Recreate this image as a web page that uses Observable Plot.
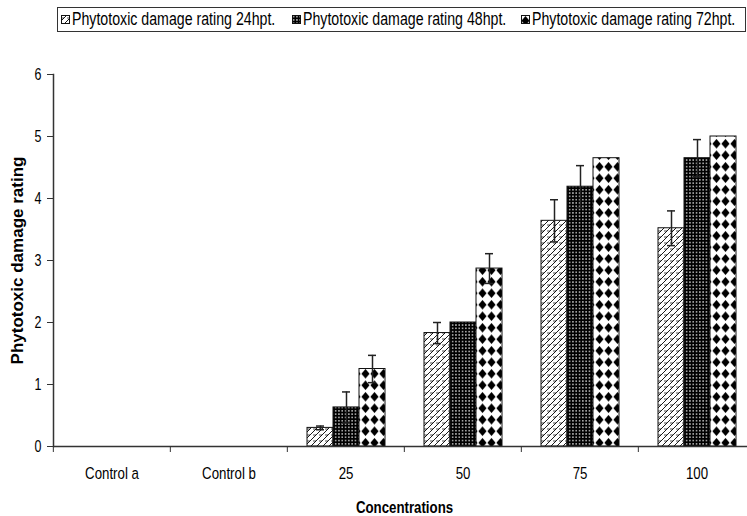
<!DOCTYPE html>
<html><head><meta charset="utf-8">
<script src="https://cdn.jsdelivr.net/npm/d3@7"></script>
<script src="https://cdn.jsdelivr.net/npm/@observablehq/plot@0.6"></script>
<style>
html,body{margin:0;padding:0;background:#fff;overflow:hidden;width:747px;height:516px;}
#wrap{position:relative;width:747px;height:516px;overflow:hidden;}
#chart{position:absolute;left:0;top:0;}
#legend{position:absolute;left:57px;top:7px;width:689px;height:25px;border:1.5px solid #333;box-sizing:border-box;background:#fff;font-family:"Liberation Sans",Arial,sans-serif;font-size:17.5px;color:#000;white-space:nowrap;}
#legend svg{position:absolute;top:7px;display:block;}
#legend span{position:absolute;top:1px;line-height:20px;transform:scaleX(0.81);transform-origin:0 50%;}
</style></head>
<body><div id="wrap"><div id="chart"></div><div id="legend"></div></div>
<script>
const categories = ["Control a", "Control b", "25", "50", "75", "100"];
const series = ["Phytotoxic damage rating 24hpt.", "Phytotoxic damage rating 48hpt.", "Phytotoxic damage rating 72hpt."];
const values24 = [0, 0, 0.30, 1.83, 3.64, 3.52];
const values48 = [0, 0, 0.63, 2.00, 4.19, 4.65];
const values72 = [0, 0, 1.25, 2.87, 4.65, 5.00];
const err24 = [0, 0, 0.03, 0.17, 0.34, 0.28];
const err48 = [0, 0, 0.25, 0, 0.34, 0.30];
const err72 = [0, 0, 0.22, 0.24, 0, 0];
const yTicks = [0, 1, 2, 3, 4, 5, 6];
const yLabel = "Phytotoxic damage rating";
const xLabel = "Concentrations";
const patternIds = ["p24", "p48", "p72"];

const valueSets = [values24, values48, values72];
const errSets = [err24, err48, err72];
const data = [];
categories.forEach((c, i) => {
  series.forEach((s, j) => data.push({cat: c, s, v: valueSets[j][i], e: errSets[j][i]}));
});
const errs = data.filter(d => d.e > 0);

const W = 760, H = 516, ML = 52, MR = 4;
const step = (W - ML - MR) / categories.length;
const font = '"Liberation Sans",Arial,sans-serif';

const chart = Plot.plot({
  width: W, height: H,
  marginLeft: ML, marginRight: MR, marginTop: 74, marginBottom: 70,
  style: {maxWidth: "none", overflow: "hidden", background: "#fff", fontFamily: font, fontSize: "16px", color: "#000"},
  fx: {domain: categories, padding: 0, label: null, axis: null},
  x: {domain: series, paddingInner: 0, paddingOuter: 0.73, axis: null},
  y: {domain: [0, 6], axis: null},
  color: {type: "ordinal", domain: series, range: patternIds.map(id => `url(#${id})`)},
  marks: [
    Plot.barY(data, {fx: "cat", x: "s", y: "v", fill: "s", stroke: "#111", strokeWidth: 1}),
    Plot.ruleX(errs, {fx: "cat", x: "s", y1: d => d.v - d.e, y2: d => d.v + d.e, stroke: "#222", strokeWidth: 1.5}),
    Plot.tickY(errs, {fx: "cat", x: "s", y: d => d.v + d.e, insetLeft: 9, insetRight: 9, stroke: "#222", strokeWidth: 1.5}),
    Plot.tickY(errs, {fx: "cat", x: "s", y: d => d.v - d.e, insetLeft: 9, insetRight: 9, stroke: "#222", strokeWidth: 1.5}),
    Plot.ruleY([0], {stroke: "#333", strokeWidth: 1.5}),
    Plot.frame({anchor: "left", facetAnchor: "left", stroke: "#333", strokeWidth: 1.5}),
    Plot.axisY({ticks: yTicks, tickFormat: d => String(d), tickSize: 6, tickPadding: 6, label: null, fontSize: 16, stroke: "#333"}),
    Plot.axisY({ticks: [], tickSize: 0, label: yLabel, labelAnchor: "center", labelOffset: 43, labelArrow: "none", fontWeight: "bold", fontSize: 17, ariaLabel: "ylabel"}),
    Plot.axisFx({anchor: "bottom", tickSize: 0, tickPadding: 20, label: null, fontSize: 17}),
    Plot.axisFx({anchor: "bottom", ticks: [], tickSize: 0, label: xLabel, labelAnchor: "center", labelOffset: 66, labelArrow: "none", fontWeight: "bold", fontSize: 17}),
    Plot.axisFx({anchor: "bottom", tickSize: 6, tickFormat: () => "", label: null, dx: -step / 2, stroke: "#333"})
  ]
});

d3.select(chart).insert("defs", ":first-child").html(`
  <pattern id="p24" patternUnits="userSpaceOnUse" width="6" height="6">
    <rect width="6" height="6" fill="#fff"/>
    <path d="M0,6 L6,0 M-1.5,1.5 L1.5,-1.5 M4.5,7.5 L7.5,4.5" stroke="#000" stroke-width="0.9"/>
    <path d="M0,3 L3,3" stroke="#000" stroke-width="0.7"/>
  </pattern>
  <pattern id="p48" patternUnits="userSpaceOnUse" width="3.3" height="3.3">
    <rect width="3.3" height="3.3" fill="#000"/>
    <rect x="1" y="1" width="1.3" height="1.3" fill="#fff"/>
  </pattern>
  <pattern id="p72" patternUnits="userSpaceOnUse" width="9" height="11.5">
    <rect width="9" height="11.5" fill="#fff"/>
    <path d="M4.5,1 L8.6,5.75 L4.5,10.5 L0.4,5.75 Z" fill="#000"/>
  </pattern>`);

// condense horizontal texts (the reference uses a narrow, tall face)
d3.select(chart).selectAll("text").each(function() {
  const t = d3.select(this);
  const p = this.closest("[aria-label]");
  if (p && p.getAttribute("aria-label").startsWith("ylabel")) return;
  let x = parseFloat(t.attr("x"));
  if (!isFinite(x)) x = 0;
  const tr = t.attr("transform") || "";
  t.attr("transform", `${tr} translate(${x},0) scale(0.78,1) translate(${-x},0)`);
});

document.getElementById("chart").appendChild(chart);

const legend = d3.select("#legend");
const swatchX = [2.5, 233.5, 462.5];
series.forEach((s, j) => {
  const sw = legend.append("svg").attr("width", 9).attr("height", 9).style("left", swatchX[j] + "px");
  sw.append("rect").attr("x", 0.5).attr("y", 0.5).attr("width", 8).attr("height", 8)
    .attr("fill", `url(#${patternIds[j]})`).attr("stroke", "#111").attr("stroke-width", 1);
  legend.append("span").style("left", (swatchX[j] + 11) + "px").text(s);
});
</script>
</body></html>
